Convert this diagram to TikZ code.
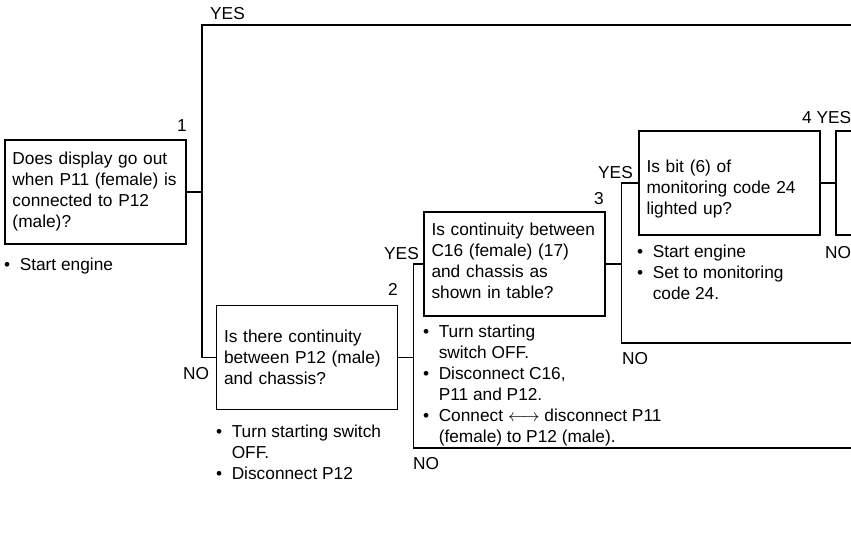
\documentclass[tikz,border=0pt]{standalone}
\usepackage{fontspec}
\setmainfont{Liberation Sans}
\usetikzlibrary{positioning}

\tikzset{
  qbox/.style={draw, line width=1.1pt, minimum height=104pt, minimum width=181pt},
  qtext/.style={text width=166pt, inner sep=0pt, align=left},
  link/.style={line width=1.1pt},
  tag/.style={anchor=base west, inner sep=0pt},
  note/.style={anchor=base west, inner sep=0pt},
}
\newcommand{\bul}{\textbullet}

\begin{document}
\begin{tikzpicture}[x=1pt, y=-1pt, font=\fontsize{17.3}{21}\selectfont]
        \useasboundingbox (0,0) rectangle (851,550);

        % question boxes
        \node[qbox] (q1) at (95.5,192) {};
        \node[qbox] (q2) at (307,357.5) {};
        \node[qbox] (q3) at (514.5,264) {};
        \node[qbox] (q4) at (729.5,183) {};
        \node[qbox] (q5) at (926.5,183) {};

        \node[qtext] (q1t) at (q1.center) {Does display go out\\when P11 (female) is\\connected to P12\\(male)?};
        \node[qtext] (q2t) at (q2.center) {Is there continuity\\between P12 (male)\\and chassis?};
        \node[qtext] (q3t) at ([yshift=3pt]q3.center) {Is continuity between\\C16 (female) (17)\\and chassis as\\shown in table?};
        \node[qtext] (q4t) at ([yshift=-6pt]q4.center) {Is bit (6) of\\monitoring code 24\\lighted up?};

        % step numbers
        \node[tag] (k1) at (177,131) {1};
        \node[tag] (k2) at (388,295) {2};
        \node[tag] (k3) at (594,204) {3};
        \node[tag] (k4) at (802,123) {4 YES};

        % notes
        \node[note] (s1) at (4,270) {\begin{tabular}[t]{@{}l@{\hspace{9.5pt}}l@{}}
          \bul & Start engine
        \end{tabular}};
        \node[note] (s2) at (216,437) {\begin{tabular}[t]{@{}l@{\hspace{9.5pt}}l@{}}
          \bul & Turn starting switch\\ & OFF.\\
          \bul & Disconnect P12
        \end{tabular}};
        \node[note] (s3) at (423,337) {\begin{tabular}[t]{@{}l@{\hspace{9.5pt}}l@{}}
          \bul & Turn starting\\ & switch OFF.\\
          \bul & Disconnect C16,\\ & P11 and P12.\\
          \bul & Connect $\longleftrightarrow$ disconnect P11\\ & (female) to P12 (male).
        \end{tabular}};
        \node[note] (s4) at (637,257) {\begin{tabular}[t]{@{}l@{\hspace{9.5pt}}l@{}}
          \bul & Start engine\\
          \bul & Set to monitoring\\ & code 24.
        \end{tabular}};

        % branch labels
        \node[tag] (y1) at (210,19.5) {YES};
        \node[tag] (n1) at (183,379) {NO};
        \node[tag] (y2) at (384,259) {YES};
        \node[tag] (n2) at (413,469) {NO};
        \node[tag] (y3) at (598,178) {YES};
        \node[tag] (n3) at (622,364) {NO};
        \node[tag] (n4) at (825,258) {NO};

        % connectors
        \coordinate (t1) at (860,25);
        \coordinate (b1) at ([xshift=-14pt]q2.west);
        \draw[link] (q1.east) -- (q1.east -| b1);
        \draw[link] (t1) -| (b1) -- (q2.west);

        \coordinate (t2) at (860,448);
        \coordinate (b2) at ([xshift=-10pt]q3.west);
        \draw[link] (q2.east) -- (q2.east -| b2);
        \draw[link] (q3.west) -- (b2) |- (t2);

        \coordinate (t3) at (860,343);
        \coordinate (b3) at ([xshift=-17pt]q4.west);
        \draw[link] (q3.east) -- (q3.east -| b3);
        \draw[link] (q4.west) -- (b3) |- (t3);

        \draw[link] (q4.east) -- (q5.west);
\end{tikzpicture}
\end{document}
